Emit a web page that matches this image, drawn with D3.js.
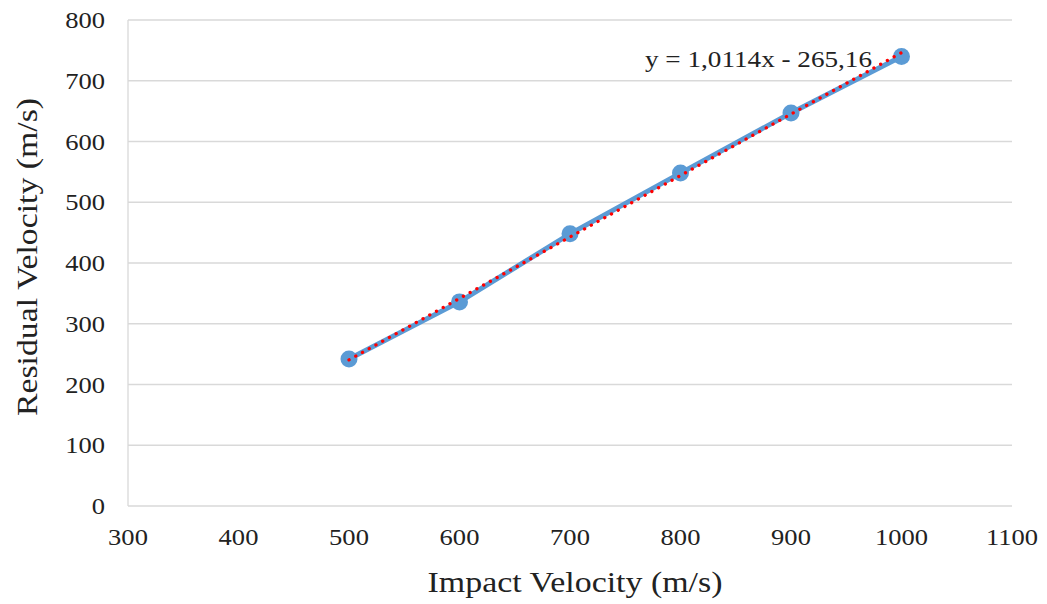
<!DOCTYPE html>
<html lang="en">
<head>
    <meta charset="utf-8" />
    <title>Residual vs Impact Velocity</title>
    <script src="https://d3js.org/d3.v7.min.js"></script>
    <style>
        body {
            margin: 0;
            padding: 0;
            background: #fff;
        }
        text {
            font-family: "Liberation Serif", "Times New Roman", serif;
            fill: #222;
        }
    </style>
</head>
<body>
<svg id="chart"></svg>
<script>
    var w = 1047;
    var h = 604;

    // data
    var impactVelocity = [500, 600, 700, 800, 900, 1000];
    var residualVelocity = [242, 336, 448, 548, 647, 740];
    var xTicks = [300, 400, 500, 600, 700, 800, 900, 1000, 1100];
    var yTicks = [0, 100, 200, 300, 400, 500, 600, 700, 800];
    // linear trend shown on the chart
    var slope = 1.0114;
    var intercept = -265.16;
    var trendLabel = "y = 1,0114x - 265,16";

    var margin = {top: 20, right: 35, bottom: 98, left: 128};
    var iw = w - margin.left - margin.right;
    var ih = h - margin.top - margin.bottom;
    // the source picture is a little stretched sideways
    var stretch = 1.13;

    var svg = d3.select("#chart")
        .attr("width", w)
        .attr("height", h);

    var g = svg.append("g")
        .attr("transform", "translate(" + margin.left + "," + margin.top + ")");

    var xScale = d3.scaleLinear().domain([300, 1100]).range([0, iw]);
    var yScale = d3.scaleLinear().domain([0, 800]).range([ih, 0]);

    // horizontal gridlines
    g.selectAll(".grid")
        .data(yTicks)
        .enter().append("line")
        .attr("x1", 0)
        .attr("x2", iw)
        .attr("y1", function(d) { return yScale(d); })
        .attr("y2", function(d) { return yScale(d); })
        .attr("stroke", "#d9d9d9")
        .attr("stroke-width", 1.3);

    // left axis line
    g.append("line")
        .attr("x1", 0).attr("x2", 0)
        .attr("y1", 0).attr("y2", ih)
        .attr("stroke", "#d9d9d9")
        .attr("stroke-width", 1.3);

    // y tick labels
    g.selectAll(".ylab")
        .data(yTicks)
        .enter().append("text")
        .attr("transform", function(d) {
            return "translate(-23," + yScale(d) + ") scale(" + stretch + ",1)";
        })
        .attr("dy", "0.35em")
        .attr("text-anchor", "end")
        .attr("font-size", "23.5px")
        .text(function(d) { return d; });

    // x tick labels
    g.selectAll(".xlab")
        .data(xTicks)
        .enter().append("text")
        .attr("transform", function(d) {
            return "translate(" + xScale(d) + "," + (ih + 39) + ") scale(" + stretch + ",1)";
        })
        .attr("text-anchor", "middle")
        .attr("font-size", "23.5px")
        .text(function(d) { return d; });

    // axis titles
    svg.append("text")
        .attr("transform", "translate(575,592) scale(" + stretch + ",1)")
        .attr("text-anchor", "middle")
        .attr("font-size", "30px")
        .text("Impact Velocity (m/s)");

    svg.append("text")
        .attr("transform", "translate(37,257) rotate(-90)")
        .attr("text-anchor", "middle")
        .attr("font-size", "30px")
        .attr("textLength", 318)
        .attr("lengthAdjust", "spacingAndGlyphs")
        .text("Residual Velocity (m/s)");

    var points = impactVelocity.map(function(x, i) {
        return [x, residualVelocity[i]];
    });

    // data line
    var line = d3.line()
        .x(function(d) { return xScale(d[0]); })
        .y(function(d) { return yScale(d[1]); });

    g.append("path")
        .datum(points)
        .attr("fill", "none")
        .attr("stroke", "#5b9bd5")
        .attr("stroke-width", 5)
        .attr("d", line);

    g.selectAll(".pt")
        .data(points)
        .enter().append("circle")
        .attr("cx", function(d) { return xScale(d[0]); })
        .attr("cy", function(d) { return yScale(d[1]); })
        .attr("r", 8.5)
        .attr("fill", "#5b9bd5");

    // dotted trendline
    var xMin = d3.min(impactVelocity);
    var xMax = d3.max(impactVelocity);
    var trend = [[xMin, slope * xMin + intercept], [xMax, slope * xMax + intercept]];

    g.append("path")
        .datum(trend)
        .attr("fill", "none")
        .attr("stroke", "#ff0000")
        .attr("stroke-width", 3.3)
        .attr("stroke-linecap", "round")
        .attr("stroke-dasharray", "0.1,7.6")
        .attr("d", line);

    // trendline equation
    svg.append("text")
        .attr("x", 645)
        .attr("y", 67)
        .attr("font-size", "23px")
        .attr("textLength", 227)
        .attr("lengthAdjust", "spacingAndGlyphs")
        .text(trendLabel);
</script>
</body>
</html>
